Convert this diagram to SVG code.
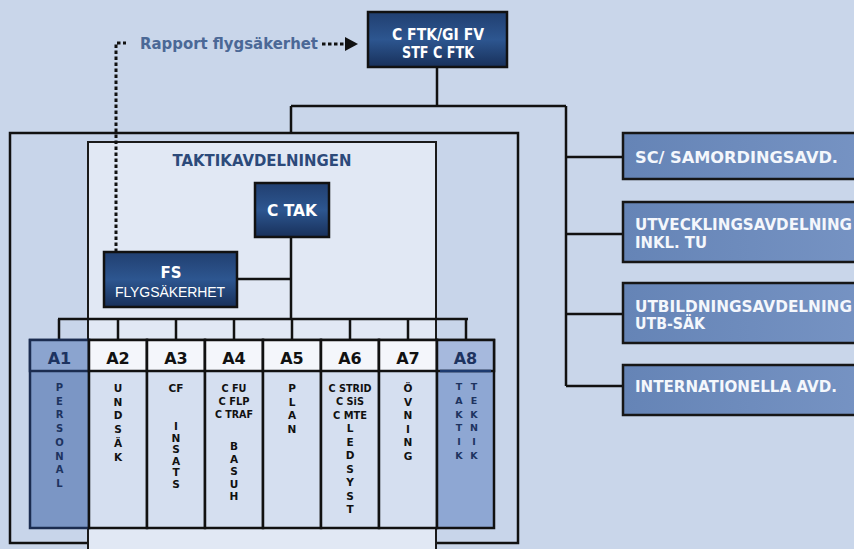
<svg xmlns="http://www.w3.org/2000/svg" width="854" height="549" viewBox="0 0 854 549">
<defs>
<linearGradient id="dk" x1="0" y1="0" x2="0" y2="1">
<stop offset="0" stop-color="#213f70"/>
<stop offset="0.5" stop-color="#2d5690"/>
<stop offset="1" stop-color="#18305a"/>
</linearGradient>
<linearGradient id="rb" x1="0" y1="0" x2="1" y2="0">
<stop offset="0" stop-color="#6584b6"/>
<stop offset="1" stop-color="#7693c3"/>
</linearGradient>
<style>
.ln{stroke:#111;stroke-width:2.5;fill:none}
.dot{stroke:#111;stroke-width:3;fill:none;stroke-dasharray:3.5 2.5}
.dkbox{fill:url(#dk);stroke:#111;stroke-width:2.5}
.rbox{fill:url(#rb);stroke:#161616;stroke-width:2.5}
.wt{font-family:"DejaVu Sans","Liberation Sans",sans-serif;font-weight:bold;fill:#fff;text-anchor:middle}
.rt{font-family:"DejaVu Sans","Liberation Sans",sans-serif;font-weight:bold;fill:#f4f7fc;font-size:15px}
.hd{font-family:"DejaVu Sans","Liberation Sans",sans-serif;font-weight:bold;font-size:16px;text-anchor:middle;fill:#111}
.lt{font-family:"DejaVu Sans","Liberation Sans",sans-serif;font-weight:bold;font-size:10.5px;text-anchor:middle;fill:#111}
.nv{fill:#1d3360}
.col{fill:#d5dff0;stroke:#111;stroke-width:2.5}
.colh{fill:#f4f6fb;stroke:#111;stroke-width:2.5}
</style>
</defs>
<rect x="0" y="0" width="854" height="549" fill="#c9d6ea"/>

<g id="outer-box">
<rect x="10" y="133" width="508" height="410" fill="#c8d5ea" stroke="#111" stroke-width="2.5"/>
</g>
<g id="taktikavdelningen">
<rect x="88" y="142" width="348" height="420" fill="#e1e8f4" stroke="#1a1a1a" stroke-width="2"/>
<text x="262" y="166" class="wt" style="fill:#2c4a7a;font-size:15px" textLength="179" lengthAdjust="spacingAndGlyphs">TAKTIKAVDELNINGEN</text>
</g>

<g id="connectors">
<path class="ln" d="M437,67 V106 M291,106 H566 M291,106 V133 M566,106 V386 M566,157 H623 M566,234 H623 M566,314 H623 M566,386 H623"/>
<path class="ln" d="M291,237 V319 M237,279 H291 M58,319 H468 M59,319 V340 M118,319 V340 M176,319 V340 M234,319 V340 M292,319 V340 M350,319 V340 M408,319 V340 M466,319 V340"/>
<path class="dot" d="M116,252 V43 H126"/>
<path class="dot" d="M322,44 H345"/>
<polygon points="345,37 358,44 345,51" fill="#111"/>
</g>

<g id="rapport-label">
<text x="140" y="49" style="font-family:'DejaVu Sans','Liberation Sans',sans-serif;font-weight:bold;font-size:15px;fill:#4b6896" textLength="178" lengthAdjust="spacingAndGlyphs">Rapport flygsäkerhet</text>
</g>

<g id="c-ftk">
<rect x="368" y="12" width="139" height="55" class="dkbox"/>
<text x="438" y="40" class="wt" style="font-size:15px" textLength="92" lengthAdjust="spacingAndGlyphs">C FTK/GI FV</text>
<text x="438" y="58" class="wt" style="font-size:15px" textLength="72" lengthAdjust="spacingAndGlyphs">STF C FTK</text>
</g>

<g id="c-tak">
<rect x="255" y="183" width="74" height="54" class="dkbox"/>
<text x="292" y="216" class="wt" style="font-size:15px" textLength="50" lengthAdjust="spacingAndGlyphs">C TAK</text>
</g>

<g id="fs">
<rect x="104" y="252" width="133" height="55" class="dkbox"/>
<text x="171" y="278" class="wt" style="font-size:15px">FS</text>
<text x="170" y="297" style="font-family:'Liberation Sans',Arial,sans-serif;font-size:14px;fill:#fff;text-anchor:middle" textLength="110">FLYGSÄKERHET</text>
</g>

<g id="sc">
<rect x="623" y="133" width="240" height="46" class="rbox"/>
<text x="635" y="163" class="rt" textLength="203" lengthAdjust="spacingAndGlyphs">SC/ SAMORDINGSAVD.</text>
</g>
<g id="utveckling">
<rect x="623" y="202" width="240" height="60" class="rbox"/>
<text x="635" y="230" class="rt" textLength="217" lengthAdjust="spacingAndGlyphs">UTVECKLINGSAVDELNING</text>
<text x="635" y="248" class="rt" textLength="72" lengthAdjust="spacingAndGlyphs">INKL. TU</text>
</g>
<g id="utbildning">
<rect x="623" y="283" width="240" height="60" class="rbox"/>
<text x="635" y="312" class="rt" textLength="217" lengthAdjust="spacingAndGlyphs">UTBILDNINGSAVDELNING</text>
<text x="635" y="329" class="rt" textLength="70" lengthAdjust="spacingAndGlyphs">UTB-SÄK</text>
</g>
<g id="internationella">
<rect x="623" y="365" width="240" height="50" class="rbox"/>
<text x="635" y="392" class="rt" textLength="202" lengthAdjust="spacingAndGlyphs">INTERNATIONELLA AVD.</text>
</g>

<g id="a1">
<rect x="30" y="340" width="59" height="188" fill="#7b96c5" stroke="#1b2c50" stroke-width="2.5"/>
<rect x="30" y="340" width="59" height="31" fill="#8ba4cf" stroke="#1b2c50" stroke-width="2.5"/>
<text x="59.5" y="364" class="hd nv">A1</text>
<text class="lt nv" style="font-size:10px"><tspan x="59.5" y="391">P</tspan><tspan x="59.5" y="404.7">E</tspan><tspan x="59.5" y="418.4">R</tspan><tspan x="59.5" y="432.1">S</tspan><tspan x="59.5" y="445.8">O</tspan><tspan x="59.5" y="459.5">N</tspan><tspan x="59.5" y="473.2">A</tspan><tspan x="59.5" y="486.9">L</tspan></text>
</g>
<g id="a2">
<rect x="89" y="340" width="58" height="188" class="col"/>
<rect x="89" y="340" width="58" height="31" class="colh"/>
<text x="118" y="364" class="hd">A2</text>
<text class="lt"><tspan x="118" y="392">U</tspan><tspan x="118" y="405.7">N</tspan><tspan x="118" y="419.4">D</tspan><tspan x="118" y="433.1">S</tspan><tspan x="118" y="446.8">Ä</tspan><tspan x="118" y="460.5">K</tspan></text>
</g>
<g id="a3">
<rect x="147" y="340" width="58" height="188" class="col"/>
<rect x="147" y="340" width="58" height="31" class="colh"/>
<text x="176" y="364" class="hd">A3</text>
<text class="lt"><tspan x="176" y="392">CF</tspan><tspan x="176" y="430">I</tspan><tspan x="176" y="441.5">N</tspan><tspan x="176" y="453">S</tspan><tspan x="176" y="464.5">A</tspan><tspan x="176" y="476">T</tspan><tspan x="176" y="487.5">S</tspan></text>
</g>
<g id="a4">
<rect x="205" y="340" width="58" height="188" class="col"/>
<rect x="205" y="340" width="58" height="31" class="colh"/>
<text x="234" y="364" class="hd">A4</text>
<text class="lt"><tspan x="234" y="392" textLength="25" lengthAdjust="spacingAndGlyphs">C FU</tspan><tspan x="234" y="405" textLength="31" lengthAdjust="spacingAndGlyphs">C FLP</tspan><tspan x="234" y="418" textLength="38" lengthAdjust="spacingAndGlyphs">C TRAF</tspan><tspan x="234" y="450">B</tspan><tspan x="234" y="462.5">A</tspan><tspan x="234" y="475">S</tspan><tspan x="234" y="487.5">U</tspan><tspan x="234" y="500">H</tspan></text>
</g>
<g id="a5">
<rect x="263" y="340" width="58" height="188" class="col"/>
<rect x="263" y="340" width="58" height="31" class="colh"/>
<text x="292" y="364" class="hd">A5</text>
<text class="lt"><tspan x="292" y="392">P</tspan><tspan x="292" y="405.5">L</tspan><tspan x="292" y="419">A</tspan><tspan x="292" y="432.5">N</tspan></text>
</g>
<g id="a6">
<rect x="321" y="340" width="58" height="188" class="col"/>
<rect x="321" y="340" width="58" height="31" class="colh"/>
<text x="350" y="364" class="hd">A6</text>
<text class="lt"><tspan x="350" y="392" textLength="43" lengthAdjust="spacingAndGlyphs">C STRID</tspan><tspan x="350" y="405" textLength="28" lengthAdjust="spacingAndGlyphs">C SiS</tspan><tspan x="350" y="418.5" textLength="34" lengthAdjust="spacingAndGlyphs">C MTE</tspan><tspan x="350" y="432">L</tspan><tspan x="350" y="445.5">E</tspan><tspan x="350" y="459">D</tspan><tspan x="350" y="472.5">S</tspan><tspan x="350" y="486">Y</tspan><tspan x="350" y="499.5">S</tspan><tspan x="350" y="513">T</tspan></text>
</g>
<g id="a7">
<rect x="379" y="340" width="58" height="188" class="col"/>
<rect x="379" y="340" width="58" height="31" class="colh"/>
<text x="408" y="364" class="hd">A7</text>
<text class="lt"><tspan x="408" y="392">Ö</tspan><tspan x="408" y="405.5">V</tspan><tspan x="408" y="419">N</tspan><tspan x="408" y="432.5">I</tspan><tspan x="408" y="446">N</tspan><tspan x="408" y="459.5">G</tspan></text>
</g>
<g id="a8">
<rect x="437" y="340" width="57" height="188" fill="#8ea7d3" stroke="#111" stroke-width="2.5"/>
<rect x="437" y="340" width="57" height="31" fill="#a6b9dd" stroke="#111" stroke-width="2.5"/>
<line x1="440" y1="371" x2="491" y2="371" stroke="#1d3a6e" stroke-width="2.5"/>
<text x="465.5" y="364" class="hd nv">A8</text>
<text class="lt nv" style="font-size:9.5px"><tspan x="459" y="390">T</tspan><tspan x="459" y="403.8">A</tspan><tspan x="459" y="417.6">K</tspan><tspan x="459" y="431.4">T</tspan><tspan x="459" y="445.2">I</tspan><tspan x="459" y="459">K</tspan></text>
<text class="lt nv" style="font-size:9.5px"><tspan x="474" y="390">T</tspan><tspan x="474" y="403.8">E</tspan><tspan x="474" y="417.6">K</tspan><tspan x="474" y="431.4">N</tspan><tspan x="474" y="445.2">I</tspan><tspan x="474" y="459">K</tspan></text>
</g>
</svg>
